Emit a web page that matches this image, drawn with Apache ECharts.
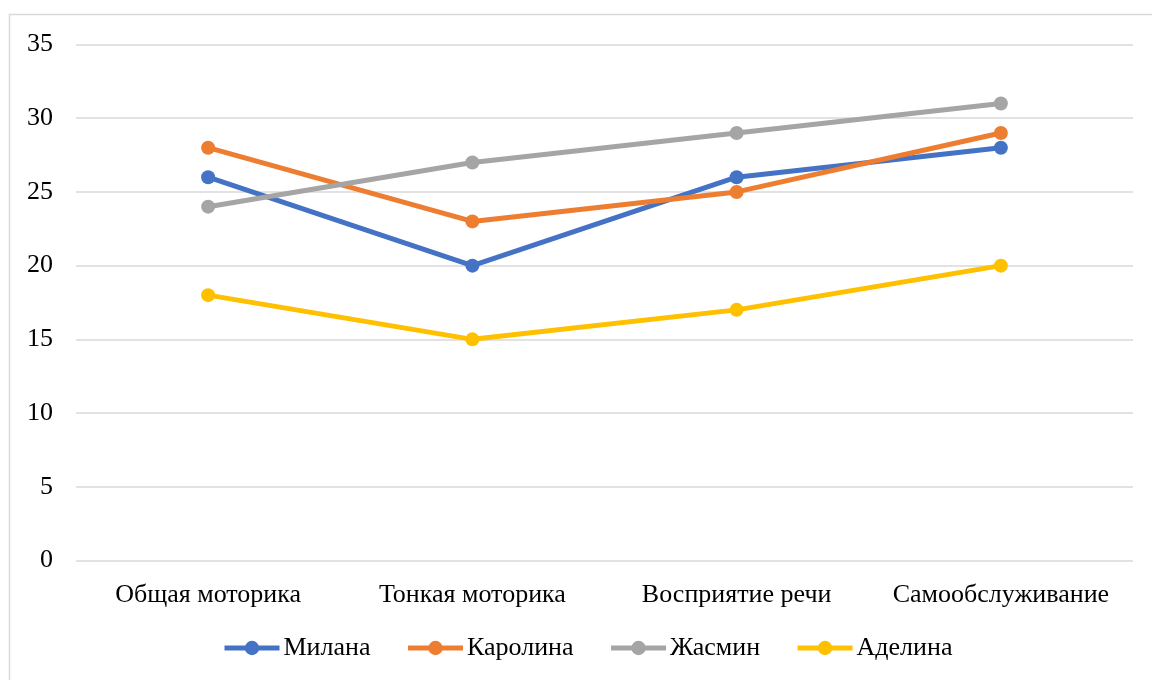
<!DOCTYPE html>
<html>
<head>
<meta charset="utf-8">
<script src="https://cdn.jsdelivr.net/npm/echarts@6/dist/echarts.min.js"></script>
<style>
  html, body { margin: 0; padding: 0; background: #fff; }
  #chart { width: 1152px; height: 680px; }
</style>
</head>
<body>
<div id="chart"></div>
<script>
// Categories on the x axis
const categories = ['Общая моторика', 'Тонкая моторика', 'Восприятие речи', 'Самообслуживание'];

// Scores per child
const milana   = [26, 20, 26, 28];
const karolina = [28, 23, 25, 29];
const zhasmin  = [24, 27, 29, 31];
const adelina  = [18, 15, 17, 20];

const seriesNames = ['Милана', 'Каролина', 'Жасмин', 'Аделина'];
const seriesData = [milana, karolina, zhasmin, adelina];
const colors = ['#4472C4', '#ED7D31', '#A5A5A5', '#FFC000'];

const font = '"Liberation Serif", "Times New Roman", serif';

const chart = echarts.init(document.getElementById('chart'));
chart.setOption({
  animation: false,
  color: colors,
  graphic: [{
    type: 'rect',
    shape: { x: 9.5, y: 14.5, width: 1160, height: 700 },
    style: { fill: 'none', stroke: '#d9d9d9', lineWidth: 1.5 },
    silent: true
  }],
  grid: { left: 76, right: 19, top: 44.5, bottom: 119.5, containLabel: false },
  legend: {
    top: 635,
    left: 222,
    padding: 0,
    itemWidth: 55,
    itemHeight: 18,
    itemGap: 35,
    lineStyle: { width: 5 },
    textStyle: { fontFamily: font, fontSize: 26, color: '#000', padding: [0, 0, 0, -1] },
    data: seriesNames
  },
  xAxis: {
    type: 'category',
    data: categories,
    boundaryGap: true,
    axisLine: { show: false },
    axisTick: { show: false },
    axisLabel: { fontFamily: font, fontSize: 26, color: '#000', margin: 22, interval: 0 }
  },
  yAxis: {
    type: 'value',
    min: 0,
    max: 35,
    interval: 5,
    axisLine: { show: false },
    axisTick: { show: false },
    axisLabel: { fontFamily: font, fontSize: 26, color: '#000', margin: 23 },
    splitLine: { lineStyle: { color: '#d9d9d9', width: 1.5 } }
  },
  series: seriesNames.map((name, i) => ({
    name,
    type: 'line',
    data: seriesData[i],
    symbol: 'circle',
    symbolSize: 14,
    lineStyle: { width: 5 },
    itemStyle: { color: colors[i] }
  }))
});
</script>
</body>
</html>
